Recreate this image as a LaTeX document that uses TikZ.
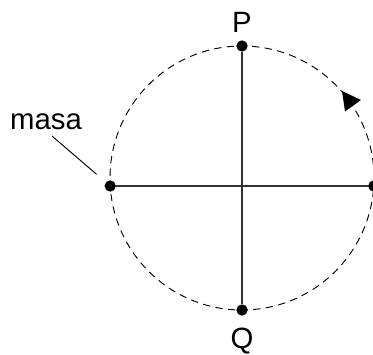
\documentclass[tikz,border=0pt]{standalone}
\usepackage{fontspec}
\setmainfont{Liberation Sans}
\begin{document}
\begin{tikzpicture}[x=0.75pt,y=0.75pt,font=\fontsize{22}{26}\selectfont,
  dot/.style={circle,fill=black,inner sep=0pt,minimum size=8.5pt},
  axis/.style={black!80,line width=0.8pt}]
  \useasboundingbox (0,0) rectangle (373,354);
  \draw[black,line width=0.7pt,dash pattern=on 5.5pt off 4pt] (242,176) circle (132);
  \node[dot] (top) at (242,308) {};
  \node[dot] (bottom) at (242,44) {};
  \node[dot] (left) at (110.2,168) {};
  \node[dot] (right) at (373.8,168) {};
  \draw[axis] (top) -- (bottom) (left) -- (right);
  \node (P) at (242,332) {P};
  \node (Q) at (242,13) {Q};
  \node (masa) at (46,232) {masa};
  \coordinate (lead) at (52,218);
  \draw[line width=0.7pt,shorten >=9pt] (lead) -- (left);
  \fill (342,263) -- (361,254) -- (345,242.5) -- cycle;
\end{tikzpicture}
\end{document}
